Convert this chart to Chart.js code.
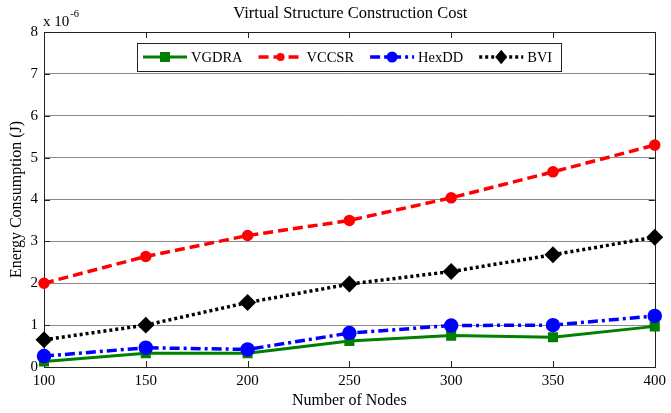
<!DOCTYPE html>
<html>
<head>
<meta charset="utf-8">
<script src="https://cdn.jsdelivr.net/npm/chart.js@4/dist/chart.umd.min.js"></script>
<style>
html,body{margin:0;padding:0;background:#fff;}
#wrap{width:671px;height:413px;}
</style>
</head>
<body>
<div id="wrap"><canvas id="c" width="671" height="413"></canvas></div>
<script>
const nodes = ['100','150','200','250','300','350','400'];
const vgdra = [0.13, 0.33, 0.33, 0.62, 0.75, 0.71, 0.97];
const vccsr = [2.0, 2.64, 3.14, 3.5, 4.04, 4.66, 5.3];
const hexdd = [0.26, 0.46, 0.42, 0.81, 0.99, 1.0, 1.22];
const bvi   = [0.65, 1.0, 1.54, 1.98, 2.28, 2.68, 3.1];
const yTicks = [0,1,2,3,4,5,6,7,8];

const SERIF = '"Liberation Serif", "Times New Roman", serif';

const frameAndLegend = {
  id: 'frameAndLegend',
  beforeDatasetsDraw(chart) {
    const ctx = chart.ctx, a = chart.chartArea;
    const xs = chart.scales.x, ys = chart.scales.y;
    ctx.save();
    ctx.strokeStyle = '#222';
    ctx.lineWidth = 1;
    ctx.strokeRect(Math.round(a.left)+0.5, Math.round(a.top)+0.5, Math.round(a.right-a.left), Math.round(a.bottom-a.top));
    ctx.beginPath();
    nodes.forEach((n,i) => {
      const x = Math.round(xs.getPixelForValue(i)) + 0.5;
      ctx.moveTo(x, a.bottom); ctx.lineTo(x, a.bottom - 6);
      ctx.moveTo(x, a.top); ctx.lineTo(x, a.top + 6);
    });
    yTicks.forEach(v => {
      const y = Math.round(ys.getPixelForValue(v)) + 0.5;
      ctx.moveTo(a.left, y); ctx.lineTo(a.left + 6, y);
      ctx.moveTo(a.right, y); ctx.lineTo(a.right - 6, y);
    });
    ctx.stroke();
    ctx.restore();
  },
  afterDraw(chart) {
    const ctx = chart.ctx, a = chart.chartArea;
    const cx = (a.left + a.right) / 2;
    ctx.save();
    ctx.fillStyle = '#000';
    ctx.font = '16.5px ' + SERIF;
    ctx.textAlign = 'center';
    ctx.textBaseline = 'middle';
    ctx.fillText('Virtual Structure Construction Cost', cx + 1, 14);
    ctx.textAlign = 'left';
    ctx.textBaseline = 'alphabetic';
    ctx.font = '15px ' + SERIF;
    ctx.fillText('x 10', 43, 26);
    const w = ctx.measureText('x 10').width;
    ctx.font = '10.5px ' + SERIF;
    ctx.fillText('-6', 43 + w + 1, 17);
    ctx.font = '14.5px ' + SERIF;
    const ds = chart.data.datasets;
    const lineLen = 44, gap = 4, itemGap = 16, padL = 6, padR = 9;
    let total = padL + padR;
    ds.forEach((d,i) => { total += lineLen + gap + ctx.measureText(d.label).width + (i < ds.length-1 ? itemGap : 0); });
    total = Math.round(total);
    const bx = Math.round(cx - total/2), by = 43, bh = 28;
    ctx.fillStyle = '#fff';
    ctx.fillRect(bx, by, total, bh);
    ctx.strokeStyle = '#222';
    ctx.lineWidth = 1;
    ctx.strokeRect(bx + 0.5, by + 0.5, total, bh);
    let x = bx + padL;
    const ly = by + bh/2;
    ds.forEach((d) => {
      ctx.save();
      ctx.strokeStyle = d.borderColor;
      ctx.lineWidth = d.borderWidth;
      ctx.setLineDash(d.borderDash || []);
      ctx.beginPath();
      ctx.moveTo(x, ly); ctx.lineTo(x + lineLen, ly);
      ctx.stroke();
      ctx.setLineDash([]);
      const mx = x + lineLen/2, r = d.pointRadius;
      ctx.fillStyle = d.pointBackgroundColor;
      ctx.beginPath();
      if (d.pointStyle === 'rect') {
        ctx.rect(mx - r, ly - r, 2*r, 2*r);
      } else if (d.pointStyle === 'rectRot') {
        ctx.moveTo(mx, ly - r*1.2); ctx.lineTo(mx + r, ly); ctx.lineTo(mx, ly + r*1.2); ctx.lineTo(mx - r, ly); ctx.closePath();
      } else {
        ctx.arc(mx, ly, r, 0, Math.PI*2);
      }
      ctx.fill();
      ctx.restore();
      ctx.fillStyle = '#000';
      ctx.textAlign = 'left';
      ctx.textBaseline = 'middle';
      ctx.fillText(d.label, x + lineLen + gap, ly + 1);
      x += lineLen + gap + ctx.measureText(d.label).width + itemGap;
    });
    ctx.restore();
  }
};

new Chart(document.getElementById('c'), {
  type: 'line',
  data: {
    labels: nodes,
    datasets: [
      { label: 'VGDRA', data: vgdra, borderColor: '#008000', backgroundColor: '#008000',
        pointBackgroundColor: '#008000', pointBorderColor: '#008000', borderWidth: 3,
        pointStyle: 'rect', pointRadius: 5, borderDash: [], order: 4, clip: false, tension: 0 },
      { label: 'VCCSR', data: vccsr, borderColor: '#ff0000', backgroundColor: '#ff0000',
        pointBackgroundColor: '#ff0000', pointBorderColor: '#ff0000', borderWidth: 3.5,
        pointStyle: 'circle', pointRadius: 4, borderDash: [10, 5], order: 3, clip: false, tension: 0 },
      { label: 'HexDD', data: hexdd, borderColor: '#0000ff', backgroundColor: '#0000ff',
        pointBackgroundColor: '#0000ff', pointBorderColor: '#0000ff', borderWidth: 3.5,
        pointStyle: 'circle', pointRadius: 5.5, borderDash: [10, 4, 3, 4], order: 2, clip: false, tension: 0 },
      { label: 'BVI', data: bvi, borderColor: '#000000', backgroundColor: '#000000',
        pointBackgroundColor: '#000000', pointBorderColor: '#000000', borderWidth: 3.5,
        pointStyle: 'rectRot', pointRadius: 6, borderDash: [3, 3], order: 1, clip: false, tension: 0 }
    ]
  },
  options: {
    responsive: false,
    animation: false,
    events: [],
    layout: { padding: { top: 32, right: 10, left: 0, bottom: 0 } },
    plugins: { legend: { display: false }, title: { display: false }, tooltip: { enabled: false } },
    scales: {
      x: {
        type: 'category',
        offset: false,
        grid: { display: false, drawTicks: false },
        border: { display: false },
        ticks: { color: '#000', font: { family: SERIF, size: 15 }, padding: 5, maxRotation: 0 },
        title: { display: true, text: 'Number of Nodes', color: '#000', font: { family: SERIF, size: 16 }, padding: { top: 0, bottom: 3 } },
        afterFit(s) { s.height = 46; }
      },
      y: {
        min: 0, max: 8,
        ticks: { stepSize: 1, color: '#000', font: { family: SERIF, size: 15 }, padding: 6 },
        grid: { color: '#8a8a8a', lineWidth: 1, drawTicks: false },
        border: { display: false },
        title: { display: true, text: 'Energy Consumption (J)', color: '#000', font: { family: SERIF, size: 16 }, padding: { top: 7, bottom: 0 } },
        afterFit(s) { s.width = 44; }
      }
    }
  },
  plugins: [frameAndLegend]
});
</script>
</body>
</html>
